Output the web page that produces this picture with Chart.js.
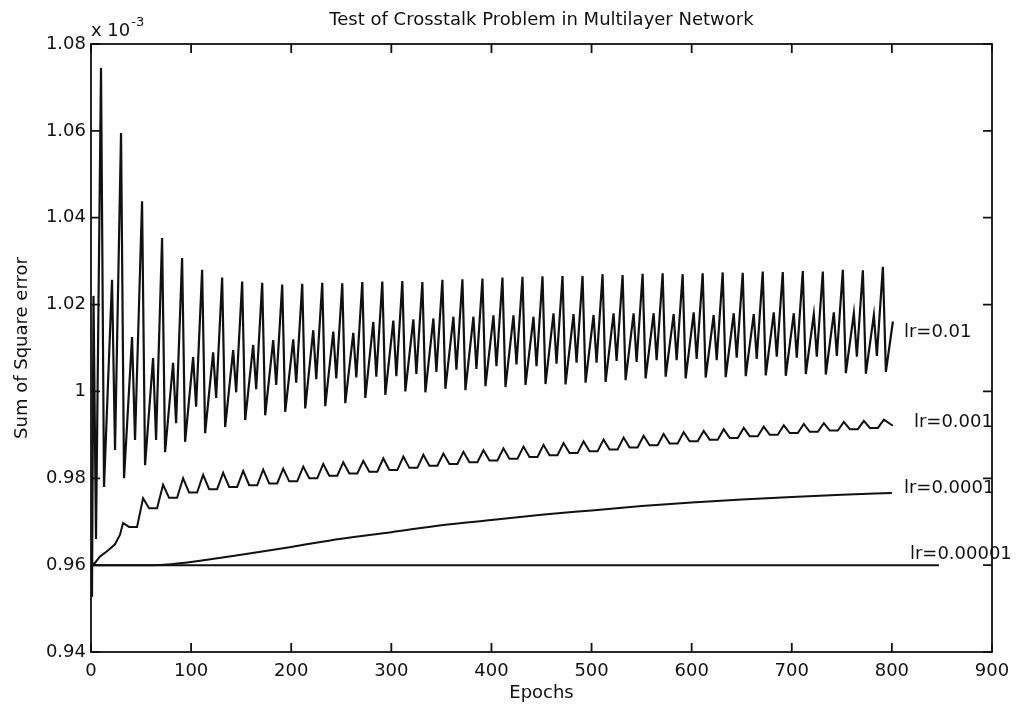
<!DOCTYPE html>
<html>
<head>
<meta charset="utf-8">
<script src="https://cdn.jsdelivr.net/npm/chart.js@4.4.1/dist/chart.umd.min.js"></script>
<style>
  body { margin: 0; background: #fff; }
  #wrap { width: 1026px; height: 708px; }
</style>
</head>
<body>
<div id="wrap"><canvas id="ourChart" width="1026" height="708"></canvas></div>
<script>
// values are in units of 1e-3 (the axis shows "x 10^-3")
const xTicks = [0, 100, 200, 300, 400, 500, 600, 700, 800, 900];
const yTicks = [0.94, 0.96, 0.98, 1.00, 1.02, 1.04, 1.06, 1.08];
const lineLabels = ['lr=0.01', 'lr=0.001', 'lr=0.0001', 'lr=0.00001'];

// lr=0.01 : start, then per cycle big peak / trough / second peak / second trough
const lr01StartEpochs = [0, 1, 2.5, 5];
const lr01StartValues = [0.960, 0.9527, 1.022, 0.966];
const lr01PeakEpochs = [10, 30, 51, 71, 91, 111, 131, 151, 171, 191, 211, 231, 251, 271, 291, 311, 331, 351, 371, 391,
  411, 431, 451, 471, 491, 511, 531, 551, 571, 591, 611, 631, 651, 671, 691, 711, 731, 751, 771, 791];
const lr01Peaks = [1.0745, 1.0595, 1.0438, 1.0353, 1.0307, 1.0280, 1.0262, 1.0253, 1.0250, 1.0246,
  1.0248, 1.0250, 1.0249, 1.0252, 1.0253, 1.0254, 1.0252, 1.0257, 1.0258, 1.0260,
  1.0262, 1.0264, 1.0265, 1.0266, 1.0266, 1.0270, 1.0268, 1.0271, 1.0272, 1.0270,
  1.0272, 1.0274, 1.0273, 1.0276, 1.0275, 1.0277, 1.0276, 1.0280, 1.0279, 1.0287];
const lr01Troughs = [0.9780, 0.9800, 0.9830, 0.9860, 0.9884, 0.9904, 0.9918, 0.9934, 0.9945, 0.9953,
  0.9961, 0.9966, 0.9973, 0.9985, 0.9992, 1.0000, 0.9998, 1.0006, 1.0003, 1.0012,
  1.0010, 1.0015, 1.0017, 1.0016, 1.0020, 1.0022, 1.0026, 1.0030, 1.0034, 1.0030,
  1.0032, 1.0033, 1.0035, 1.0037, 1.0036, 1.0040, 1.0039, 1.0042, 1.0041, 1.0045];
const lr01SecPeaks = [1.0257, 1.0125, 1.0077, 1.0066, 1.0079, 1.0090, 1.0095, 1.0107, 1.0118, 1.0120,
  1.0141, 1.0138, 1.0135, 1.0160, 1.0163, 1.0166, 1.0168, 1.0172, 1.0172, 1.0175,
  1.0175, 1.0172, 1.0180, 1.0178, 1.0176, 1.0180, 1.0180, 1.0180, 1.0178, 1.0182,
  1.0176, 1.0180, 1.0178, 1.0182, 1.0180, 1.0178, 1.0182, 1.0180, 1.0176];
const lr01SecTroughs = [0.9865, 0.9888, 0.9888, 0.9927, 0.9965, 0.9985, 0.9998, 1.0005, 1.0015, 1.0020,
  1.0028, 1.0030, 1.0032, 1.0034, 1.0035, 1.0040, 1.0045, 1.0050, 1.0052, 1.0058,
  1.0062, 1.0058, 1.0064, 1.0066, 1.0066, 1.0070, 1.0068, 1.0072, 1.0072, 1.0075,
  1.0072, 1.0078, 1.0075, 1.0080, 1.0078, 1.0080, 1.0082, 1.0080, 1.0082];
const lr01EndEpochs = [801];
const lr01EndValues = [1.0161];

// lr=0.001 : start, then cusp peaks with rounded troughs
const lr001StartEpochs = [0, 4, 9, 16, 24, 29];
const lr001StartValues = [0.960, 0.9605, 0.9620, 0.9632, 0.9648, 0.9670];
const lr001PeakEpochs = [32, 52, 72, 92, 112, 132, 152, 172, 192, 212, 232, 252, 272, 292, 312, 332, 352, 372, 392,
  412, 432, 452, 472, 492, 512, 532, 552, 572, 592, 612, 632, 652, 672, 692, 712, 732, 752, 772, 792];
const lr001Peaks = [0.9697, 0.9754, 0.9785, 0.9800, 0.9808, 0.9813, 0.9817, 0.9820, 0.9822, 0.9827,
  0.9833, 0.9837, 0.9840, 0.9846, 0.9850, 0.9854, 0.9857, 0.9861, 0.9865, 0.9869,
  0.9873, 0.9877, 0.9881, 0.9885, 0.9889, 0.9894, 0.9898, 0.9902, 0.9906, 0.9909,
  0.9913, 0.9916, 0.9919, 0.9922, 0.9925, 0.9927, 0.9930, 0.9932, 0.9935];
const lr001Troughs = [0.9688, 0.9731, 0.9755, 0.9767, 0.9775, 0.9780, 0.9784, 0.9788, 0.9793, 0.9800,
  0.9806, 0.9811, 0.9815, 0.9819, 0.9824, 0.9829, 0.9833, 0.9837, 0.9841, 0.9845,
  0.9849, 0.9853, 0.9858, 0.9862, 0.9866, 0.9871, 0.9876, 0.9880, 0.9885, 0.9889,
  0.9893, 0.9897, 0.9900, 0.9904, 0.9907, 0.9910, 0.9913, 0.9916];
const lr001EndEpochs = [801];
const lr001EndValues = [0.9921];

// lr=0.0001 : slow rise
const lr0001Epochs = [0, 60, 80, 100, 150, 200, 250, 300, 350, 400, 450, 500, 550, 600, 650, 700, 750, 800];
const lr0001Values = [0.960, 0.960, 0.9602, 0.9607, 0.9624, 0.9642, 0.9661, 0.9676, 0.9692, 0.9704,
  0.9716, 0.9726, 0.9736, 0.9744, 0.9751, 0.9757, 0.9762, 0.9766];

// lr=0.00001 : flat
const lr00001Epochs = [0, 847];
const lr00001Values = [0.960, 0.960];

function pairs(xs, ys) {
    return xs.map((x, i) => ({ x: x, y: ys[i] }));
}

function buildLr01() {
    let pts = pairs(lr01StartEpochs, lr01StartValues);
    lr01PeakEpochs.forEach((e, k) => {
        pts.push({ x: e, y: lr01Peaks[k] });
        pts.push({ x: e + 3, y: lr01Troughs[k] });
        if (k < lr01SecPeaks.length) {
            pts.push({ x: e + 11, y: lr01SecPeaks[k] });
            pts.push({ x: e + 14, y: lr01SecTroughs[k] });
        }
    });
    return pts.concat(pairs(lr01EndEpochs, lr01EndValues));
}

function buildLr001() {
    let pts = pairs(lr001StartEpochs, lr001StartValues);
    lr001PeakEpochs.forEach((e, k) => {
        pts.push({ x: e, y: lr001Peaks[k] });
        if (k < lr001Troughs.length) {
            pts.push({ x: e + 6, y: lr001Troughs[k] });
            pts.push({ x: e + 14, y: lr001Troughs[k] });
        }
    });
    return pts.concat(pairs(lr001EndEpochs, lr001EndValues));
}

const ink = '#111111';
const font = 'DejaVu Sans';

// box, inward ticks and all the loose text of the matlab figure
const figurePlugin = {
    id: 'figure',
    afterDraw(chart) {
        const ctx = chart.ctx;
        const a = chart.chartArea;
        const xs = chart.scales.x, ys = chart.scales.y;
        ctx.save();
        ctx.strokeStyle = ink;
        ctx.lineWidth = 1.8;
        ctx.strokeRect(a.left, a.top, a.right - a.left, a.bottom - a.top);
        ctx.beginPath();
        xTicks.forEach(v => {
            const px = xs.getPixelForValue(v);
            ctx.moveTo(px, a.bottom); ctx.lineTo(px, a.bottom - 9);
            ctx.moveTo(px, a.top); ctx.lineTo(px, a.top + 9);
        });
        yTicks.forEach(v => {
            const py = ys.getPixelForValue(v);
            ctx.moveTo(a.left, py); ctx.lineTo(a.left + 9, py);
            ctx.moveTo(a.right, py); ctx.lineTo(a.right - 9, py);
        });
        ctx.stroke();

        ctx.fillStyle = ink;
        ctx.font = '18px "' + font + '"';
        ctx.textBaseline = 'middle';
        ctx.textAlign = 'center';
        ctx.fillText('Test of Crosstalk Problem in Multilayer Network', (a.left + a.right) / 2, 20);
        ctx.fillText('Epochs', (a.left + a.right) / 2, 693);

        ctx.save();
        ctx.translate(22, (a.top + a.bottom) / 2);
        ctx.rotate(-Math.PI / 2);
        ctx.fillText('Sum of Square error', 0, 0);
        ctx.restore();

        ctx.textAlign = 'left';
        ctx.textBaseline = 'alphabetic';
        ctx.fillText('x 10', a.left, 36);
        const w = ctx.measureText('x 10').width;
        ctx.font = '13px "' + font + '"';
        ctx.fillText('-3', a.left + w + 1, 26);

        ctx.font = '18px "' + font + '"';
        ctx.textBaseline = 'middle';
        const anchors = [[812, 1.0137], [822, 0.9930], [812, 0.9778], [818, 0.9626]];
        lineLabels.forEach((t, i) => {
            ctx.fillText(t, xs.getPixelForValue(anchors[i][0]), ys.getPixelForValue(anchors[i][1]));
        });
        ctx.restore();
    }
};

function lineStyle(width) {
    return { borderColor: ink, borderWidth: width, pointRadius: 0, fill: false };
}

const chartElement = new Chart(document.getElementById('ourChart'), {
    type: 'line',
    data: {
        datasets: [
            Object.assign({ label: lineLabels[0], data: buildLr01() }, lineStyle(2.2)),
            Object.assign({ label: lineLabels[1], data: buildLr001() }, lineStyle(2)),
            Object.assign({ label: lineLabels[2], data: pairs(lr0001Epochs, lr0001Values), cubicInterpolationMode: 'monotone' }, lineStyle(2)),
            Object.assign({ label: lineLabels[3], data: pairs(lr00001Epochs, lr00001Values) }, lineStyle(2))
        ]
    },
    options: {
        responsive: false,
        animation: false,
        devicePixelRatio: 1,
        layout: { padding: { top: 44, right: 34, left: 0, bottom: 0 } },
        plugins: {
            legend: { display: false },
            tooltip: { enabled: false },
            title: { display: false }
        },
        scales: {
            x: {
                type: 'linear',
                min: 0,
                max: 900,
                grid: { display: false, drawTicks: false },
                border: { display: false },
                afterBuildTicks: s => { s.ticks = xTicks.map(v => ({ value: v })); },
                afterFit: s => { s.height = 56; },
                ticks: {
                    padding: 9,
                    maxRotation: 0,
                    color: ink,
                    font: { family: font, size: 18 },
                    callback: v => String(v)
                }
            },
            y: {
                min: 0.94,
                max: 1.08,
                grid: { display: false, drawTicks: false },
                border: { display: false },
                afterBuildTicks: s => { s.ticks = yTicks.map(v => ({ value: v })); },
                afterFit: s => { s.width = 91; },
                ticks: {
                    padding: 5,
                    color: ink,
                    font: { family: font, size: 18 },
                    callback: v => String(+v.toFixed(2))
                }
            }
        }
    },
    plugins: [figurePlugin]
});
</script>
</body>
</html>
